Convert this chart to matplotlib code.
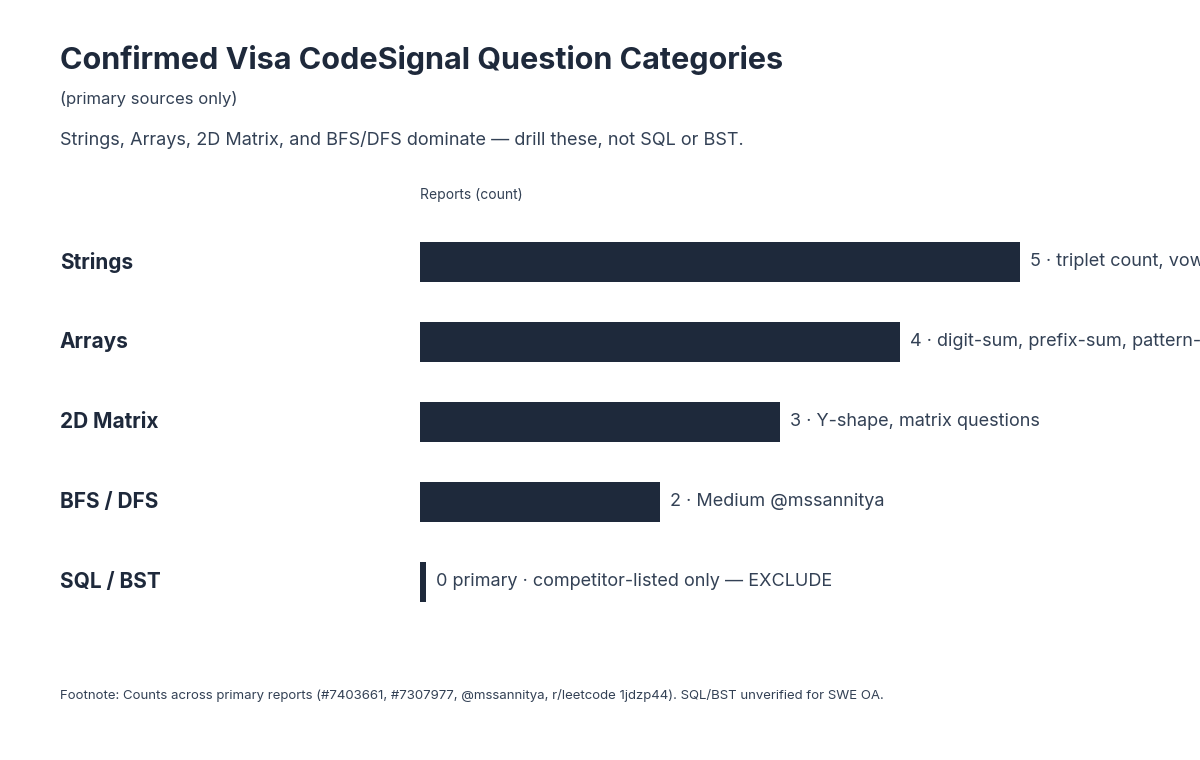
import matplotlib.pyplot as plt

categories = ["Strings", "Arrays", "2D Matrix", "BFS / DFS", "SQL / BST"]
counts = [5, 4, 3, 2, 0]
notes = [
    "5 · triplet count, vowel substrings, string ops",
    "4 · digit-sum, prefix-sum, pattern-matching arrays",
    "3 · Y-shape, matrix questions",
    "2 · Medium @mssannitya",
    "0 primary · competitor-listed only — EXCLUDE",
]

plt.rcParams['font.family'] = ['Inter', 'DejaVu Sans']
navy = "#1e293b"
W, H = 1200, 760
fig = plt.figure(figsize=(12, 7.6), dpi=100)

# axes: x from 420px to right edge, rows 222..622px
ax = fig.add_axes([420 / W, 1 - 622 / H, 780 / W, 400 / H])
ax.set_xlim(0, 780 / 120)
ax.set_ylim(len(categories) - 0.5, -0.5)
ax.axis("off")

ypos = list(range(len(categories)))
shown = [c if c > 0 else 0.05 for c in counts]
ax.barh(ypos, shown, height=0.5, color=navy)
for y, c, s, note, cat in zip(ypos, counts, shown, notes, categories):
    ax.text(s + 10 / 120, y, note, va="center", ha="left", fontsize=13,
            color="#334155", clip_on=False)
    fig.text(60 / W, 1 - (262 + 80 * y) / H, cat, va="center", ha="left",
             fontsize=15, fontweight="bold", color=navy)

fig.text(60 / W, 1 - 60 / H, "Confirmed Visa CodeSignal Question Categories",
         fontsize=22, fontweight="bold", color=navy, va="center")
fig.text(60 / W, 1 - 99 / H, "(primary sources only)", fontsize=12,
         color="#334155", va="center")
fig.text(60 / W, 1 - 140 / H,
         "Strings, Arrays, 2D Matrix, and BFS/DFS dominate — drill these, not SQL or BST.",
         fontsize=13, color="#334155", va="center")
fig.text(420 / W, 1 - 195 / H, "Reports (count)", fontsize=10,
         color="#334155", va="center")
fig.text(60 / W, 1 - 695 / H,
         "Footnote: Counts across primary reports (#7403661, #7307977, @mssannitya, r/leetcode 1jdzp44). SQL/BST unverified for SWE OA.",
         fontsize=9.5, color="#334155", va="center")

fig.savefig("out.png", dpi=100, facecolor="white")
